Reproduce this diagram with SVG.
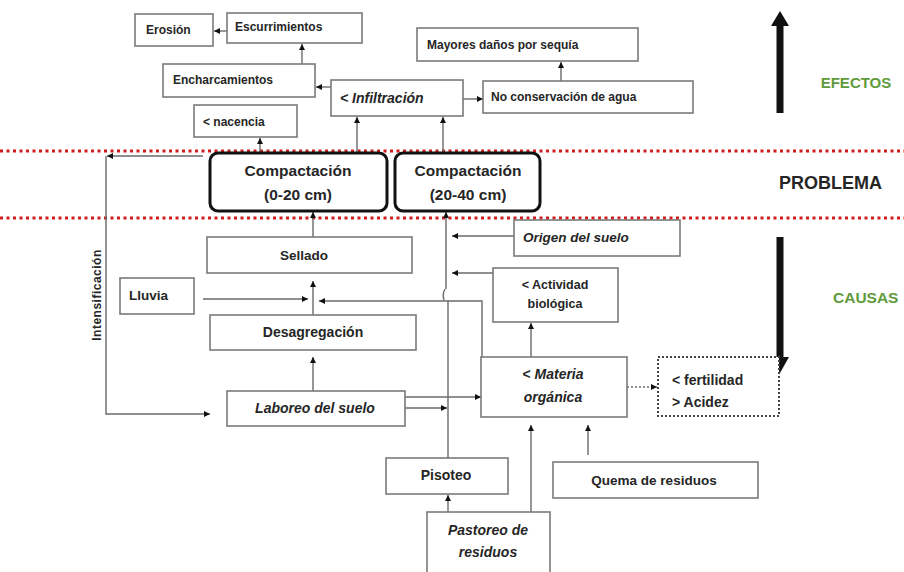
<svg xmlns="http://www.w3.org/2000/svg" width="904" height="572" viewBox="0 0 904 572">
<defs>
<style>
.box{fill:#fff;stroke:#7a7a7a;stroke-width:1.6}
.cbox{fill:#fff;stroke:#111;stroke-width:3}
.dbox{fill:#fff;stroke:#444;stroke-width:2;stroke-dasharray:2 2}
.t{font-family:"Liberation Sans",Arial,sans-serif;font-weight:bold;fill:#262626}
.i{font-style:italic}
.c{text-anchor:middle}
.ln{fill:none;stroke:#6a6a6a;stroke-width:1.4}
.red{stroke:#d01c1c;stroke-width:3;stroke-dasharray:3 3.5}
.g{fill:#5f9a3c}
.big{fill:#111}
</style>
<marker id="ah" viewBox="0 0 10 10" refX="10" refY="5" markerWidth="6" markerHeight="6" markerUnits="userSpaceOnUse" orient="auto">
<path d="M0,0 L10,5 L0,10 z" fill="#111"/>
</marker>
</defs>
<rect width="904" height="572" fill="#fff"/>

<g id="separators">
<line x1="0" y1="151" x2="904" y2="151" class="red"/>
<line x1="0" y1="218" x2="904" y2="218" class="red"/>
</g>

<g id="side-labels">
<rect class="big" x="776.5" y="24" width="7" height="89"/>
<polygon class="big" points="780,11 789,26 771,26"/>
<rect class="big" x="776.5" y="237" width="7" height="122"/>
<polygon class="big" points="771,357 789,357 780,373"/>
<text class="t c g" x="856" y="88" font-size="15">EFECTOS</text>
<text class="t" x="779" y="189" font-size="18">PROBLEMA</text>
<text class="t g" x="833" y="303" font-size="15.5">CAUSAS</text>
</g>

<g id="connectors">
<line x1="227" y1="31" x2="214" y2="31" class="ln" marker-end="url(#ah)"/>
<line x1="302" y1="64" x2="302" y2="44" class="ln" marker-end="url(#ah)"/>
<line x1="331" y1="87" x2="316" y2="87" class="ln" marker-end="url(#ah)"/>
<line x1="463" y1="99" x2="483" y2="99" class="ln" marker-end="url(#ah)"/>
<line x1="561" y1="81" x2="561" y2="62" class="ln" marker-end="url(#ah)"/>
<line x1="260" y1="153" x2="260" y2="138" class="ln" marker-end="url(#ah)"/>
<line x1="357" y1="153" x2="357" y2="117" class="ln" marker-end="url(#ah)"/>
<line x1="443" y1="153" x2="443" y2="117" class="ln" marker-end="url(#ah)"/>
<line x1="203" y1="156" x2="107" y2="156" class="ln" marker-end="url(#ah)"/>
<path d="M106,156 L106,414 L210,414" class="ln" marker-end="url(#ah)"/>
<line x1="313" y1="237" x2="313" y2="212" class="ln" marker-end="url(#ah)"/>
<line x1="203" y1="299" x2="308" y2="299" class="ln" marker-end="url(#ah)"/>
<line x1="313" y1="315" x2="313" y2="281" class="ln" marker-end="url(#ah)"/>
<path d="M482,357 L482,301 L319,301" class="ln" marker-end="url(#ah)"/>
<line x1="313" y1="391" x2="313" y2="357" class="ln" marker-end="url(#ah)"/>
<line x1="405" y1="397" x2="481" y2="397" class="ln" marker-end="url(#ah)"/>
<line x1="405" y1="408" x2="447" y2="408" class="ln" marker-end="url(#ah)"/>
<path d="M448,458 L448,301 M445,289 Q442,294 444,300 M446,289 L446,212" class="ln" marker-end="url(#ah)"/>
<line x1="514" y1="236" x2="452" y2="236" class="ln" marker-end="url(#ah)"/>
<line x1="493" y1="273" x2="452" y2="273" class="ln" marker-end="url(#ah)"/>
<line x1="531" y1="357" x2="531" y2="323" class="ln" marker-end="url(#ah)"/>
<line x1="627" y1="387" x2="657" y2="387" class="ln" stroke-dasharray="2 2" marker-end="url(#ah)"/>
<line x1="448" y1="512" x2="448" y2="495" class="ln" marker-end="url(#ah)"/>
<line x1="531" y1="512" x2="531" y2="425" class="ln" marker-end="url(#ah)"/>
<line x1="588" y1="455" x2="588" y2="425" class="ln" marker-end="url(#ah)"/>
</g>

<g id="erosion"><rect class="box" x="135" y="14" width="78" height="32"/><text class="t" x="146" y="34" font-size="12">Erosión</text></g>
<g id="escurrimientos"><rect class="box" x="227" y="13" width="135" height="30"/><text class="t" x="235" y="31" font-size="12">Escurrimientos</text></g>
<g id="encharcamientos"><rect class="box" x="163" y="64" width="152" height="33"/><text class="t" x="173" y="84" font-size="12">Encharcamientos</text></g>
<g id="infiltracion"><rect class="box" x="331" y="80" width="132" height="36"/><text class="t i" x="340" y="103" font-size="14">&lt; Infiltración</text></g>
<g id="nacencia"><rect class="box" x="194" y="105" width="103" height="32"/><text class="t" x="203" y="126" font-size="12">&lt; nacencia</text></g>
<g id="mayores"><rect class="box" x="417" y="28" width="221" height="33"/><text class="t" x="427" y="49" font-size="12">Mayores daños por sequía</text></g>
<g id="noconservacion"><rect class="box" x="483" y="81" width="210" height="32"/><text class="t" x="491" y="101" font-size="12">No conservación de agua</text></g>

<g id="comp1"><rect class="cbox" x="210" y="153" width="177" height="58" rx="8"/><text class="t c" x="298" y="176" font-size="15.5">Compactación</text><text class="t c" x="298" y="200" font-size="15.5">(0-20 cm)</text></g>
<g id="comp2"><rect class="cbox" x="395" y="153" width="145" height="58" rx="8"/><text class="t c" x="468" y="176" font-size="15.5">Compactación</text><text class="t c" x="468" y="200" font-size="15.5">(20-40 cm)</text></g>

<g id="intensificacion"><text class="t c" x="0" y="0" font-size="12" letter-spacing="0.5" transform="translate(101,295) rotate(-90)">Intensificación</text></g>

<g id="sellado"><rect class="box" x="207" y="237" width="205" height="36"/><text class="t c" x="304" y="260" font-size="13.5">Sellado</text></g>
<g id="lluvia"><rect class="box" x="120" y="278" width="74" height="36"/><text class="t" x="129" y="300" font-size="13.5">Lluvia</text></g>
<g id="desagregacion"><rect class="box" x="210" y="315" width="206" height="35"/><text class="t c" x="313" y="337" font-size="14">Desagregación</text></g>
<g id="laboreo"><rect class="box" x="227" y="391" width="178" height="35"/><text class="t i c" x="315" y="413" font-size="14">Laboreo del suelo</text></g>
<g id="origen"><rect class="box" x="514" y="220" width="166" height="36"/><text class="t i" x="523" y="242" font-size="13.5">Origen del suelo</text></g>
<g id="actividad"><rect class="box" x="493" y="268" width="125" height="54"/><text class="t c" x="555" y="289" font-size="12.5">&lt; Actividad</text><text class="t c" x="555" y="308" font-size="12.5">biológica</text></g>
<g id="materia"><rect class="box" x="481" y="357" width="146" height="60"/><text class="t c" x="553" y="379" font-size="14">&lt; <tspan class="i">Materia</tspan></text><text class="t i c" x="553" y="402" font-size="14">orgánica</text></g>
<g id="fertilidad"><rect class="dbox" x="658" y="357" width="121" height="59"/><text class="t" x="672" y="385" font-size="14">&lt; fertilidad</text><text class="t" x="672" y="407" font-size="14">&gt; Acidez</text></g>
<g id="pisoteo"><rect class="box" x="386" y="458" width="122" height="36"/><text class="t c" x="446" y="480" font-size="14">Pisoteo</text></g>
<g id="quema"><rect class="box" x="553" y="462" width="205" height="36"/><text class="t c" x="654" y="485" font-size="13.5">Quema de residuos</text></g>
<g id="pastoreo"><rect class="box" x="427" y="512" width="123" height="64"/><text class="t i c" x="488" y="535" font-size="14">Pastoreo de</text><text class="t i c" x="488" y="557" font-size="14">residuos</text></g>
</svg>
